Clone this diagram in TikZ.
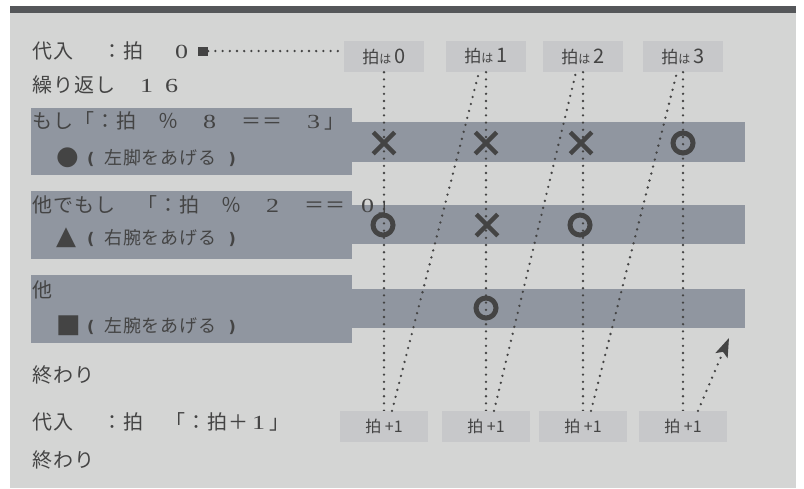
\documentclass[tikz,border=0pt]{standalone}
\usepackage{fontspec}
\usetikzlibrary{arrows.meta,shapes.misc}
\newfontfamily\jp[LetterSpace=5]{Noto Sans CJK JP}
\newfontfamily\jpn{Noto Sans CJK JP}
\newfontfamily\symf{DejaVu Sans}
\newfontfamily\serf{Liberation Serif}
\definecolor{panel}{HTML}{D4D5D4}
\definecolor{topbar}{HTML}{55575A}
\definecolor{band}{HTML}{9096A0}
\definecolor{tag}{HTML}{C7C8CA}
\definecolor{ink}{HTML}{444444}
% serif digit set in a full-width cell
\newcommand\fwd[1]{\makebox[21pt]{\serf\fontsize{20}{24}\selectfont\scalebox{1.3}[1]{#1}}}
% bold bracket for the action lines
\newcommand\brk[1]{{\symf\bfseries\fontsize{16}{18}\selectfont #1}}
\newcommand\glyph[1]{{\symf\fontsize{26}{28}\selectfont #1}}
\begin{document}
\begin{tikzpicture}[x=1pt,y=-1pt,
  code/.style={anchor=base west, inner sep=0pt, text=ink, font=\jp\fontsize{20}{24}\selectfont},
  act/.style={anchor=base west, inner sep=0pt, text=ink, font=\jp\fontsize{18}{22}\selectfont},
  tagbox/.style={fill=tag, minimum width=80pt, minimum height=31pt, inner sep=0pt, text=ink},
  stepbox/.style={fill=tag, minimum width=88pt, minimum height=31pt, inner sep=0pt, text=ink, font=\jpn\fontsize{16}{18}\selectfont},
  dots/.style={draw=ink, line width=2.6pt, line cap=round, dash pattern=on 0pt off 7.2pt},
  yes/.style={circle, draw=ink, line width=5pt, minimum size=20pt, inner sep=0pt},
  no/.style={cross out, draw=ink, line width=4.5pt, minimum size=17pt, inner sep=0pt}]
\useasboundingbox (0,0) rectangle (804,488);
\fill[white] (0,0) rectangle (804,488);
\fill[panel] (10,6) rectangle (796,488);
\fill[topbar] (10,6) rectangle (796,13);

% branch bands: condition block on the left, beat lane on the right
\fill[band] (31,108) rectangle (352,175);
\fill[band] (352,122) rectangle (745,162);
\fill[band] (31,191) rectangle (352,259);
\fill[band] (352,205) rectangle (745,244);
\fill[band] (31,275) rectangle (352,343);
\fill[band] (352,289) rectangle (745,328);

% beat headers
\node[tagbox] (h1) at (384,56.5) {\jpn\fontsize{17}{20}\selectfont 拍{\fontsize{12}{14}\selectfont は}\hspace{3pt}{\fontsize{20}{22}\selectfont 0}};
\node[tagbox] (h2) at (486,56.5) {\jpn\fontsize{17}{20}\selectfont 拍{\fontsize{12}{14}\selectfont は}\hspace{3pt}{\fontsize{20}{22}\selectfont 1}};
\node[tagbox] (h3) at (583,56.5) {\jpn\fontsize{17}{20}\selectfont 拍{\fontsize{12}{14}\selectfont は}\hspace{3pt}{\fontsize{20}{22}\selectfont 2}};
\node[tagbox] (h4) at (683,56.5) {\jpn\fontsize{17}{20}\selectfont 拍{\fontsize{12}{14}\selectfont は}\hspace{3pt}{\fontsize{20}{22}\selectfont 3}};

% flow of the beat counter
\node[fill=ink, minimum width=10pt, minimum height=9pt, inner sep=0pt] (mark0) at (203,51) {};
\draw[dots] (mark0.east) -- (mark0.east -| h1.west);
\coordinate (tip) at (729,338);

\draw[dots] (h1.south) -- (384,411);
\draw[dots] (h2.south) -- (486,411);
\draw[dots] (h3.south) -- (583,411);
\draw[dots] (h4.south) -- (683,445);

% increment boxes
\node[stepbox] (b1) at (384,426.5) {拍 +1};
\node[stepbox] (b2) at (486,426.5) {拍 +1};
\node[stepbox] (b3) at (583,426.5) {拍 +1};
\node[stepbox] (b4) at (683,426.5) {拍 +1};

\draw[dots] ([xshift=8pt]b1.north) -- ([xshift=-7pt]h2.south);
\draw[dots] ([xshift=8pt]b2.north) -- ([xshift=-7pt]h3.south);
\draw[dots] ([xshift=8pt]b3.north) -- ([xshift=-6pt]h4.south);
\draw[dots, -{Stealth[length=19pt,width=13pt,inset=4pt]}] ([xshift=15pt]b4.north) -- (tip);

% outcome of each branch per beat
\node[no] (m11) at (384,143) {};
\node[no] (m12) at (486,143) {};
\node[no] (m13) at (581,143) {};
\node[yes] (m14) at (683,143) {};
\node[yes] (m21) at (383,225) {};
\node[no] (m22) at (487,225) {};
\node[yes] (m23) at (580,225) {};
\node[yes] (m32) at (486,308) {};

% program text
\node[code] (l1) at (32,58) {代入\hspace{29pt}：拍\hspace{28pt}\fwd{0}};
\node[code] (l2) at (32,92) {繰り返し　\fwd{1}\hspace{4pt}\fwd{6}};
\node[code] (l3) at (32,128) {もし「：拍　％　\fwd{8}　＝＝　\fwd{3}」};
\node[act] (l4) at (56,164) {\makebox[31pt][l]{\glyph{●}}\makebox[17pt][l]{\brk{(}}左脚をあげる\hspace{12pt}\brk{)}};
\node[code] (l5) at (32,212) {他でもし　「：拍　％　\fwd{2}　＝＝\hspace{12pt}\fwd{0}」};
\node[act] (l6) at (56,244) {\makebox[31pt][l]{\glyph{▲}}\makebox[17pt][l]{\brk{(}}右腕をあげる\hspace{12pt}\brk{)}};
\node[code] (l7) at (32,297) {他};
\node[act] (l8) at (56,332) {\makebox[31pt][l]{\glyph{■}}\makebox[17pt][l]{\brk{(}}左腕をあげる\hspace{12pt}\brk{)}};
\node[code] (l9) at (32,382) {終わり};
\node[code] (l10) at (32,429) {代入\hspace{29pt}：拍　「：拍＋\fwd{1}」};
\node[code] (l11) at (32,467) {終わり};
\end{tikzpicture}
\end{document}
